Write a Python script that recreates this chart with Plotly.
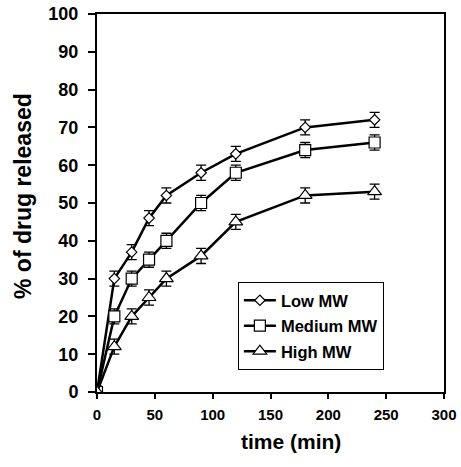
import plotly.graph_objects as go

time_min = [0, 15, 30, 45, 60, 90, 120, 180, 240]
low_mw = [0, 30, 37, 46, 52, 58, 63, 70, 72]
medium_mw = [0, 20, 30, 35, 40, 50, 58, 64, 66]
high_mw = [0, 12, 20, 25, 30, 36, 45, 52, 53]
err_low = [1.5, 2, 2, 2, 2, 2, 2, 2, 2]
err_med = [1.5, 2, 2, 2, 2, 2, 2, 2, 2]
err_high = [1.5, 2, 2, 2, 2, 2, 2, 2, 2]
x_ticks = [0, 50, 100, 150, 200, 250, 300]
y_ticks = list(range(0, 101, 10))

series = [
    ("Low MW", low_mw, err_low, "diamond", 8),
    ("Medium MW", medium_mw, err_med, "square", 11),
    ("High MW", high_mw, err_high, "triangle-up", 12),
]

fig = go.Figure()
for name, ys, errs, sym, size in series:
    fig.add_trace(go.Scatter(
        x=time_min, y=ys, name=name, mode="lines+markers", legendgroup=name,
        line=dict(color="black", width=2.5),
        marker=dict(symbol=sym, size=size, color="white",
                    line=dict(color="black", width=1.2)),
        error_y=dict(type="data", array=errs, visible=True,
                     color="black", thickness=1.3, width=5),
    ))

fig.update_layout(
    width=461, height=467,
    margin=dict(l=97, r=17, t=14, b=75),
    paper_bgcolor="white", plot_bgcolor="white",
    font=dict(family="Arial, Liberation Sans, sans-serif", color="black"),
    showlegend=True,
    legend=dict(x=0.406, y=0.291, xanchor="left", yanchor="top",
                bordercolor="black", borderwidth=1, bgcolor="white",
                font=dict(size=16.5, weight="bold"),
                tracegroupgap=1, itemwidth=32),
    annotations=[
        dict(text="time (min)", xref="paper", yref="paper", x=0.559, y=0,
             yshift=-49, xanchor="center", yanchor="middle", showarrow=False,
             font=dict(size=21, weight="bold")),
        dict(text="% of drug released", xref="paper", yref="paper", x=0, y=0.5185,
             xshift=-74, xanchor="center", yanchor="middle", showarrow=False,
             textangle=-90, font=dict(size=23, weight="bold")),
    ],
)
fig.update_xaxes(
    range=[0, 300], tickvals=x_ticks,
    showline=True, linecolor="black", linewidth=2, mirror=True,
    ticks="outside", ticklen=5, tickwidth=1.5, tickcolor="black",
    showgrid=False, zeroline=False, automargin=False, ticklabelstandoff=3,
    tickfont=dict(size=15, weight="bold"),
)
fig.update_yaxes(
    range=[0, 100], tickvals=y_ticks,
    showline=True, linecolor="black", linewidth=2, mirror=True,
    ticks="outside", ticklen=7, tickwidth=1.5, tickcolor="black",
    showgrid=False, zeroline=False, automargin=False, ticklabelstandoff=6,
    tickfont=dict(size=18, weight="bold"),
)
fig.write_html("out.html", config={"displayModeBar": False},
               post_script="document.body.style.margin='0';")
